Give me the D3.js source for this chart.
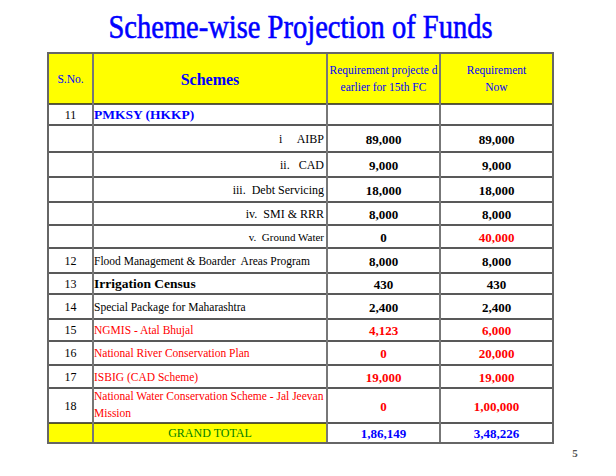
<!DOCTYPE html>
<html>
<head>
  <script src="https://d3js.org/d3.v7.min.js"></script>
  <style>
    body { margin: 0; background: #fff; }
    text { font-family: "Liberation Serif", serif; }
  </style>
</head>
<body>
<svg width="616" height="476"></svg>
<script>
  // table contents
  let title = "Scheme-wise Projection of Funds";
  let headers = [["S.No."], ["Schemes"], ["Requirement projecte d", "earlier for 15th FC"], ["Requirement", "Now"]];
  let sno = ["11", "", "", "", "", "", "12", "13", "14", "15", "16", "17", "18"];
  let schemes = [
    ["PMKSY (HKKP)"],
    ["i     AIBP"],
    ["ii.   CAD"],
    ["iii.  Debt Servicing"],
    ["iv.  SMI & RRR"],
    ["v.  Ground Water"],
    ["Flood Management & Boarder  Areas Program"],
    ["Irrigation Census"],
    ["Special Package for Maharashtra"],
    ["NGMIS - Atal Bhujal"],
    ["National River Conservation Plan"],
    ["ISBIG (CAD Scheme)"],
    ["National Water Conservation Scheme - Jal Jeevan", "Mission"]
  ];
  let earlier = ["", "89,000", "9,000", "18,000", "8,000", "0", "8,000", "430", "2,400", "4,123", "0", "19,000", "0"];
  let now = ["", "89,000", "9,000", "18,000", "8,000", "40,000", "8,000", "430", "2,400", "6,000", "20,000", "19,000", "1,00,000"];
  let totalLabel = "GRAND TOTAL";
  let totals = ["1,86,149", "3,48,226"];
  // row styling: kind of scheme cell, colour of the row
  let kinds = ["head", "sub", "sub", "sub", "sub", "subsmall", "plain", "bold", "plain", "plain", "plain", "plain", "plain"];
  let rowColor = ["black", "black", "black", "black", "black", "black", "black", "black", "black", "red", "red", "red", "red"];
  let nowColor = ["black", "black", "black", "black", "black", "red", "black", "black", "black", "red", "red", "red", "red"];

  let colEdges = [48, 93, 327, 440, 553],
    rowHeights = [21, 27, 25, 25, 23, 23, 25, 21, 25, 22, 24, 23, 35],
    headTop = 53, headBottom = 104, totalHeight = 20;

  let colors = { black: "#000", red: "#ff0000", blue: "#0000ff", green: "#008000", yellow: "#ffff00" };

  let svg = d3.select("svg");

  let rowTops = [headBottom];
  rowHeights.forEach((h, i) => rowTops.push(rowTops[i] + h));
  let totalTop = rowTops[rowTops.length - 1],
    tableBottom = totalTop + totalHeight;

  let x = d3.scaleOrdinal().domain([0, 1, 2, 3, 4]).range(colEdges);
  let cx = i => (x(i) + x(i + 1)) / 2;

  // title
  svg.append("text")
    .attr("x", (x(0) + x(4)) / 2)
    .attr("y", 38)
    .attr("text-anchor", "middle")
    .attr("textLength", 384)
    .attr("lengthAdjust", "spacingAndGlyphs")
    .style("font-size", "34px")
    .style("fill", colors.blue)
    .style("stroke", colors.blue)
    .style("stroke-width", 0.6)
    .text(title);

  // yellow fills
  svg.append("rect")
    .attr("x", x(0)).attr("y", headTop)
    .attr("width", x(4) - x(0)).attr("height", headBottom - headTop)
    .attr("fill", colors.yellow);
  svg.append("rect")
    .attr("x", x(0)).attr("y", totalTop)
    .attr("width", x(2) - x(0)).attr("height", totalHeight)
    .attr("fill", colors.yellow);

  // header texts
  headers.forEach((lines, i) => {
    let big = i == 1;
    let t = svg.append("text")
      .attr("x", cx(i))
      .attr("text-anchor", "middle")
      .style("fill", colors.blue)
      .style("font-size", big ? "16px" : "11.5px")
      .style("font-weight", big ? "bold" : "normal");
    let mid = (headTop + headBottom) / 2;
    lines.forEach((l, j) => {
      t.append("tspan")
        .attr("x", cx(i))
        .attr("y", mid + (j - (lines.length - 1) / 2) * 17 + (big ? 6 : 4))
        .text(l);
    });
  });

  // body rows
  rowHeights.forEach((h, r) => {
    let top = rowTops[r], mid = top + h / 2;
    svg.append("text")
      .attr("x", cx(0)).attr("y", mid + 4)
      .attr("text-anchor", "middle")
      .style("font-size", "12px")
      .text(sno[r]);

    let kind = kinds[r];
    let st = svg.append("text")
      .style("fill", kind == "head" ? colors.blue : colors[rowColor[r]])
      .style("white-space", "pre")
      .attr("xml:space", "preserve");
    if (kind == "sub" || kind == "subsmall") {
      st.attr("x", x(2) - 3).attr("text-anchor", "end")
        .style("font-size", kind == "subsmall" ? "11px" : "12px");
    } else {
      st.attr("x", x(1) + 1)
        .style("font-size", kind == "head" || kind == "bold" ? "13.5px" : "11.5px")
        .style("font-weight", kind == "head" || kind == "bold" ? "bold" : "normal");
    }
    let lines = schemes[r];
    lines.forEach((l, j) => {
      st.append("tspan")
        .attr("x", st.attr("x"))
        .attr("y", mid + 4 + (j - (lines.length - 1) / 2) * 17 - (lines.length > 1 ? 1 : 0))
        .text(l);
    });

    [[earlier, rowColor], [now, nowColor]].forEach(([vals, cols], k) => {
      svg.append("text")
        .attr("x", cx(2 + k)).attr("y", mid + 5)
        .attr("text-anchor", "middle")
        .style("font-size", "13px")
        .style("font-weight", "bold")
        .style("fill", colors[cols[r]])
        .text(vals[r]);
    });
  });

  // total row
  svg.append("text")
    .attr("x", cx(1)).attr("y", totalTop + totalHeight / 2 + 4)
    .attr("text-anchor", "middle")
    .style("font-size", "12px")
    .style("fill", colors.green)
    .text(totalLabel);
  totals.forEach((v, k) => {
    svg.append("text")
      .attr("x", cx(2 + k)).attr("y", totalTop + totalHeight / 2 + 5)
      .attr("text-anchor", "middle")
      .style("font-size", "13px")
      .style("font-weight", "bold")
      .style("fill", colors.blue)
      .text(v);
  });

  // grid lines
  let hLines = [headBottom].concat(rowTops.slice(1));
  svg.selectAll("line.h")
    .data(hLines).enter()
    .append("line")
    .attr("x1", x(0)).attr("x2", x(4))
    .attr("y1", d => d).attr("y2", d => d)
    .attr("stroke", "#222").attr("stroke-width", 1.5);

  svg.selectAll("line.v")
    .data(colEdges.slice(1, 4)).enter()
    .append("line")
    .attr("x1", d => d).attr("x2", d => d)
    .attr("y1", headTop).attr("y2", tableBottom)
    .attr("stroke", "#777").attr("stroke-width", 2);

  svg.append("rect")
    .attr("x", x(0)).attr("y", headTop)
    .attr("width", x(4) - x(0)).attr("height", tableBottom - headTop)
    .attr("fill", "none")
    .attr("stroke", "#666").attr("stroke-width", 2);

  // page number
  svg.append("text")
    .attr("x", 575).attr("y", 457)
    .attr("text-anchor", "middle")
    .style("font-size", "11px")
    .style("font-weight", "bold")
    .style("fill", "#555")
    .text("5");
</script>
</body>
</html>
